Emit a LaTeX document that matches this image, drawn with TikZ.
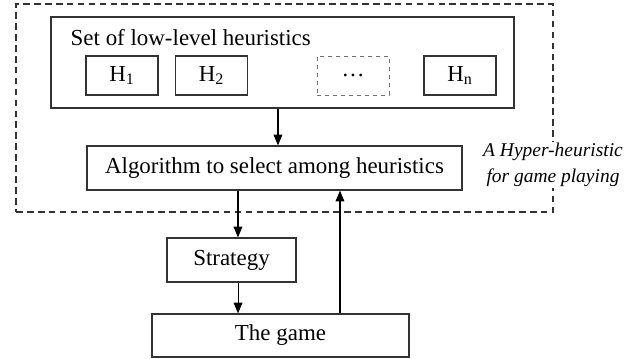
\documentclass[tikz,border=0pt]{standalone}
\usepackage{fontspec}
\setmainfont{Liberation Serif}
\usetikzlibrary{arrows.meta}

\begin{document}
\begin{tikzpicture}[x=0.75pt,y=-0.75pt,
    box/.style={draw=black!80,line width=0.9pt,inner sep=0pt,
      font=\fontsize{17.2}{20}\selectfont},
    hbox/.style={box,minimum width=54pt,minimum height=29.25pt},
    arr/.style={line width=0.8pt,-{Triangle[length=8pt,width=6.5pt]}}]
  \useasboundingbox (0,0) rectangle (642,358);
  % outer dashed frame
  \node[draw=black!80,line width=1pt,dash pattern=on 5pt off 3.2pt,
        minimum width=402.75pt,minimum height=156pt,inner sep=0pt]
        (hyper) at (284.5,108) {};
  \node[fill=white,inner sep=1pt,align=center,
        font=\fontsize{14.6}{19.5}\selectfont\itshape]
        (label) at (553,165) {A Hyper-heuristic\\for game playing};
  % heuristics set
  \node[box,minimum width=347.25pt,minimum height=68.25pt] (set) at (282.5,62.5) {};
  \node[font=\fontsize{17.2}{20}\selectfont,anchor=base west] (settext) at (66,45)
        {Set of low-level heuristics};
  \node[hbox] (h1) at (122,75.5) {H\textsubscript{1}};
  \node[hbox] (h2) at (211.5,75.5) {H\textsubscript{2}};
  \node[hbox,draw=black!55,line width=0.7pt,dashed] (hdots) at (353,75.5) {\dots};
  \node[hbox] (hn) at (460,75.5) {H\textsubscript{n}};
  % selection and game
  \node[box,minimum width=281.25pt,minimum height=33pt] (algo) at (274.5,168)
        {Algorithm to select among heuristics};
  \node[box,minimum width=96.75pt,minimum height=33pt] (strategy) at (231.5,260) {Strategy};
  \node[box,minimum width=192.75pt,minimum height=32.25pt] (game) at (280.5,335.5) {The game};
  % connectors
  \coordinate (setout) at ([xshift=-3.4pt]set.south);
  \coordinate (algoout) at ([xshift=-27.4pt]algo.south);
  \coordinate (stratout) at ([xshift=4.9pt]strategy.south);
  \coordinate (gameout) at ([xshift=44.6pt]game.north);
  \draw[arr] (setout) -- (setout |- algo.north);
  \draw[arr] (algoout) -- (algoout |- strategy.north);
  \draw[arr] (stratout) -- (stratout |- game.north);
  \draw[arr] (gameout) -- (gameout |- algo.south);
\end{tikzpicture}
\end{document}
